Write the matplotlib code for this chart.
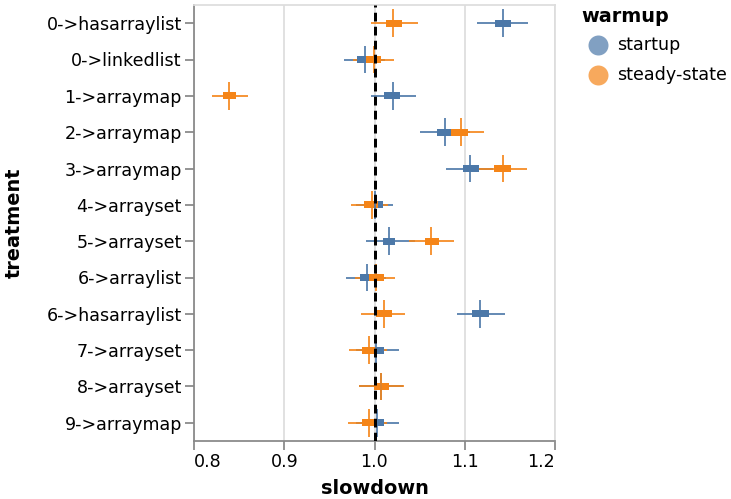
import matplotlib
matplotlib.use("Agg")
import matplotlib.pyplot as plt
import numpy as np

# ---- data -------------------------------------------------------------
treatments = ["0->hasarraylist", "0->linkedlist", "1->arraymap", "2->arraymap",
              "3->arraymap", "4->arrayset", "5->arrayset", "6->arraylist",
              "6->hasarraylist", "7->arrayset", "8->arrayset", "9->arraymap"]

# startup warmup: median, interquartile range, whisker range
startup_mid  = [1.142, 0.989, 1.020, 1.078, 1.106, 1.000, 1.016, 0.992, 1.117, 1.002, 1.007, 1.003]
startup_q_lo = [1.133, 0.981, 1.011, 1.069, 1.098, 0.994, 1.009, 0.984, 1.108, 0.993, 0.999, 0.993]
startup_q_hi = [1.151, 0.995, 1.028, 1.086, 1.116, 1.009, 1.023, 0.997, 1.127, 1.010, 1.015, 1.010]
startup_lo   = [1.114, 0.966, 0.996, 1.050, 1.079, 0.980, 0.991, 0.968, 1.091, 0.979, 0.983, 0.979]
startup_hi   = [1.170, 1.012, 1.046, 1.106, 1.131, 1.020, 1.045, 1.013, 1.145, 1.027, 1.032, 1.027]

# steady-state warmup
steady_mid  = [1.021, 0.999, 0.839, 1.096, 1.142, 0.997, 1.063, 1.002, 1.010, 0.994, 1.007, 0.994]
steady_q_lo = [1.013, 0.991, 0.832, 1.085, 1.132, 0.988, 1.056, 0.994, 1.002, 0.986, 0.999, 0.986]
steady_q_hi = [1.030, 1.007, 0.846, 1.104, 1.151, 1.004, 1.072, 1.010, 1.019, 1.003, 1.016, 1.003]
steady_lo   = [0.996, 0.976, 0.820, 1.072, 1.112, 0.974, 1.038, 0.978, 0.985, 0.972, 0.983, 0.971]
steady_hi   = [1.048, 1.022, 0.860, 1.121, 1.169, 1.015, 1.088, 1.023, 1.034, 1.014, 1.033, 1.014]

warmups = ["startup", "steady-state"]
colors = ["#4c78a8", "#f58518"]
x_ticks = [0.8, 0.9, 1.0, 1.1, 1.2]

# ---- figure ----------------------------------------------------------
W, H = 731, 499
DPI = 100
plt.rcParams["font.family"] = ["DejaVu Sans"]
plt.rcParams["lines.scale_dashes"] = False
fig = plt.figure(figsize=(W / DPI, H / DPI), dpi=DPI)

left, right, top, bottom = 194, 555, 5, 441
ax = fig.add_axes([left / W, 1 - bottom / H, (right - left) / W, (bottom - top) / H])

PX = 72 / DPI  # points per pixel
label_fs = 17.5 * PX
title_fs = 19.25 * PX

y = np.arange(len(treatments))
series = [
    (startup_mid, startup_q_lo, startup_q_hi, startup_lo, startup_hi),
    (steady_mid, steady_q_lo, steady_q_hi, steady_lo, steady_hi),
]

# whisker rules
for (mid, qlo, qhi, lo, hi), c in zip(series, colors):
    ax.hlines(y, lo, hi, color=c, lw=2 * PX, alpha=0.85, zorder=3)
# interquartile bars
for (mid, qlo, qhi, lo, hi), c in zip(series, colors):
    ax.barh(y, np.array(qhi) - np.array(qlo), left=qlo, height=0.19,
            color=c, edgecolor="none", zorder=4)
# median ticks
for (mid, qlo, qhi, lo, hi), c in zip(series, colors):
    ax.vlines(mid, y - 0.38, y + 0.38, color=c, lw=2 * PX, alpha=0.85, zorder=5)

# reference line at no slowdown
ax.axvline(1.0, color="black", lw=3 * PX, linestyle=(0, (8.75 * PX, 5.25 * PX)), zorder=6)

ax.set_xlim(0.8, 1.2)
ax.set_ylim(len(treatments) - 0.5, -0.5)

ax.set_yticks(y)
ax.set_yticklabels(treatments, fontsize=label_fs)
ax.set_xticks(x_ticks)
ax.set_xticklabels([f"{t:.1f}" for t in x_ticks], fontsize=label_fs)
xl = ax.get_xticklabels()
xl[0].set_ha("left")
xl[-1].set_ha("right")

ax.tick_params(axis="both", color="#888888", width=1.75 * PX, length=8.75 * PX,
               pad=3.5 * PX, labelcolor="black")
ax.grid(axis="x", color="#dddddd", lw=1.75 * PX, zorder=0)
ax.set_axisbelow(True)
for s in ["left", "bottom"]:
    ax.spines[s].set_color("#888888")
    ax.spines[s].set_linewidth(1.75 * PX)
for s in ["top", "right"]:
    ax.spines[s].set_color("#dddddd")
    ax.spines[s].set_linewidth(1.75 * PX)

# axis titles
fig.text(375 / W, 1 - 489 / H, "slowdown", fontsize=title_fs, fontweight="bold",
         ha="center", va="center")
fig.text(14 / W, 1 - 223 / H, "treatment", fontsize=title_fs, fontweight="bold",
         ha="center", va="center", rotation=90)

# legend
fig.text(581 / W, 1 - 17 / H, "warmup", fontsize=title_fs, fontweight="bold",
         ha="left", va="center")
for i, (name, c) in enumerate(zip(warmups, colors)):
    cy = 45 + 30 * i
    fig.add_artist(plt.Line2D([598 / W], [1 - cy / H], marker="o", markersize=20 * PX,
                              color=c, alpha=0.7, markeredgewidth=0, linestyle="none",
                              transform=fig.transFigure))
    fig.text(617 / W, 1 - cy / H, name, fontsize=label_fs, ha="left", va="center")

fig.savefig("out.png", dpi=DPI)
